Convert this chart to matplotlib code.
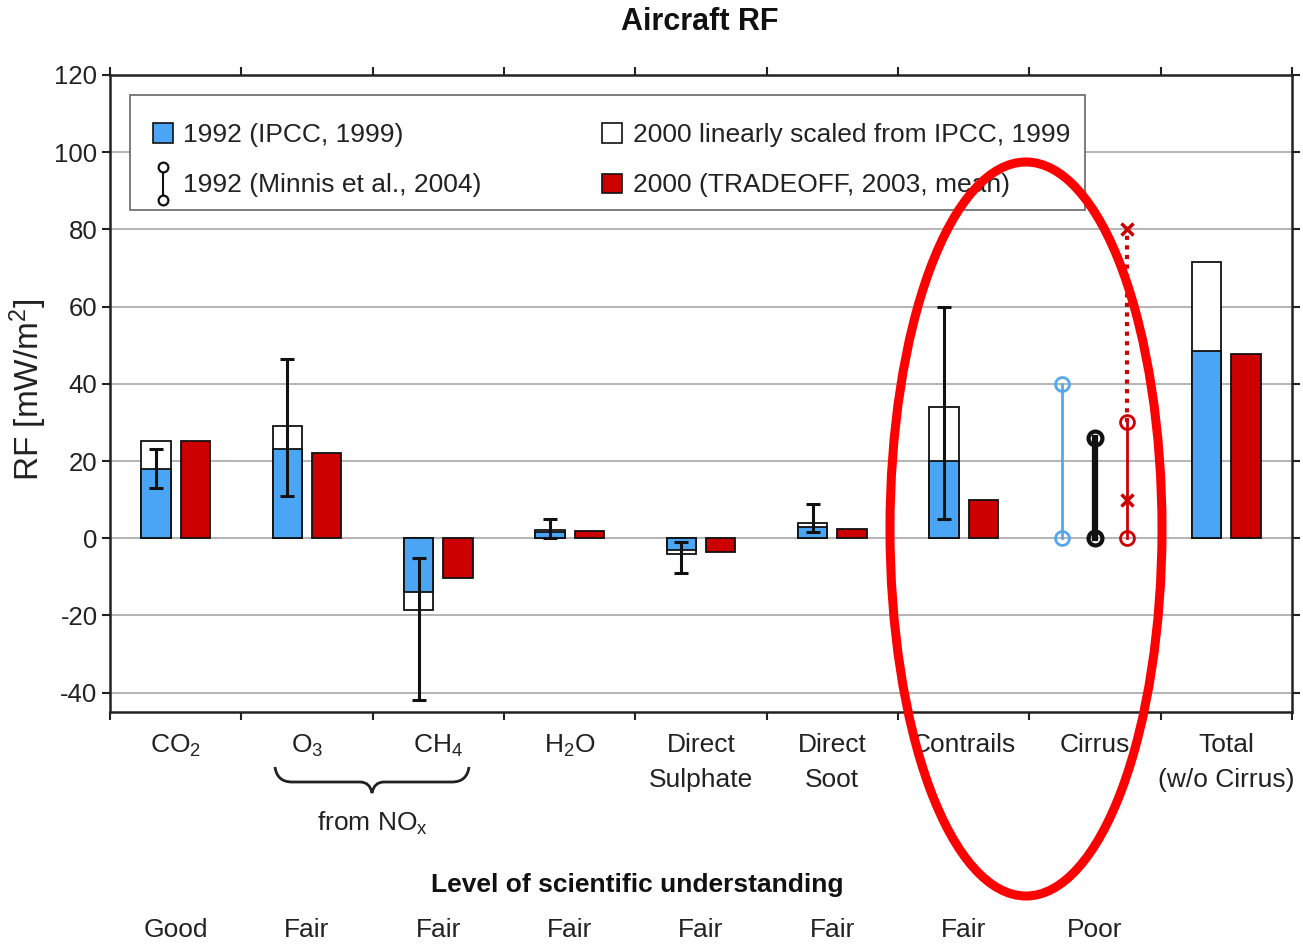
import matplotlib
matplotlib.use("Agg")
import numpy as np
import matplotlib.pyplot as plt
from matplotlib.patches import Patch, Ellipse, PathPatch, Rectangle
from matplotlib.lines import Line2D
from matplotlib.legend_handler import HandlerBase
from matplotlib.path import Path
from matplotlib.transforms import blended_transform_factory

plt.rcParams['font.family'] = ['Liberation Sans', 'DejaVu Sans']
plt.rcParams['mathtext.default'] = 'regular'
plt.rcParams['axes.unicode_minus'] = False

# ---- data (mW/m^2) ----
categories = ['CO$_2$', 'O$_3$', 'CH$_4$', 'H$_2$O', 'Direct\nSulphate',
              'Direct\nSoot', 'Contrails', 'Cirrus', 'Total\n(w/o Cirrus)']
ipcc_1992 = [18.0, 23.0, -14.0, 1.5, -3.0, 3.0, 20.0, np.nan, 48.5]
scaled_2000 = [25.3, 29.0, -18.5, 2.2, -4.0, 4.0, 34.0, np.nan, 71.5]
tradeoff_2000 = [25.3, 22.0, -10.4, 2.0, -3.5, 2.5, 10.0, np.nan, 47.8]
err_low = [13.0, 11.0, -42.0, 0.0, -9.0, 1.5, 5.0, np.nan, np.nan]
err_high = [23.0, 46.5, -5.0, 5.0, -1.0, 9.0, 60.0, np.nan, np.nan]

cirrus_ipcc_1992 = [0.0, 40.0]
cirrus_minnis_1992 = [0.0, 26.0]
cirrus_tradeoff_range = [0.0, 30.0]
cirrus_tradeoff_extreme = [10.0, 80.0]

levels = ['Good', 'Fair', 'Fair', 'Fair', 'Fair', 'Fair', 'Fair', 'Poor']

legend_labels = ['1992 (IPCC, 1999)', '1992 (Minnis et al., 2004)',
                 '2000 linearly scaled from IPCC, 1999',
                 '2000 (TRADEOFF, 2003, mean)']

# ---- styling ----
BLUE = '#4aa6f4'
LBLUE = '#55a8f0'
RED = '#cc0000'
FS = 19

W, H = 1303, 950
AX_L, AX_R, AX_T, AX_B = 110, 1292, 75, 712
fig = plt.figure(figsize=(W / 100, H / 100), dpi=100)
ax = fig.add_axes([AX_L / W, 1 - AX_B / H, (AX_R - AX_L) / W, (AX_B - AX_T) / H])


def axx(p):
    return (p - AX_L) / (AX_R - AX_L)


def axy(p):
    return (AX_B - p) / (AX_B - AX_T)


x = np.arange(len(categories))
ipcc = np.array(ipcc_1992)
scaled = np.array(scaled_2000)
trade = np.array(tradeoff_2000)
lo = np.array(err_low)
hi = np.array(err_high)

bw = 0.225
ob, orr = -0.15, 0.15
m = ~np.isnan(ipcc)

ax.bar(x[m] + ob, scaled[m], bw, color='white', edgecolor='#111111', lw=1.3, zorder=2)
ax.bar(x[m] + ob, ipcc[m], bw, color=BLUE, edgecolor='#111111', lw=1.3, zorder=3)
ax.bar(x[m] + orr, trade[m], bw, color=RED, edgecolor='#111111', lw=1.3, zorder=3)

e = ~np.isnan(lo)
mid = (lo[e] + hi[e]) / 2
half = (hi[e] - lo[e]) / 2
ax.errorbar(x[e] + ob, mid, yerr=half, fmt='none', ecolor='#111111',
            elinewidth=2.2, capsize=5, capthick=2.2, zorder=4)

# cirrus ranges
xc = x[7]
ax.plot([xc - 0.25] * 2, cirrus_ipcc_1992, color=LBLUE, lw=2, marker='o',
        ms=10, mfc='none', mec=LBLUE, mew=2, zorder=4)
ax.plot([xc] * 2, cirrus_minnis_1992, color='#111111', lw=4.5, marker='o',
        ms=10, mfc='none', mec='#111111', mew=3, zorder=4)
xr = xc + 0.24
ax.plot([xr] * 2, [cirrus_tradeoff_range[1], cirrus_tradeoff_extreme[1]],
        color=RED, lw=3, linestyle=(0, (1, 1.3)), zorder=4)
ax.plot([xr] * 2, cirrus_tradeoff_range, color=RED, lw=2, marker='o',
        ms=10, mfc='none', mec=RED, mew=2, zorder=4)
ax.plot([xr] * 2, cirrus_tradeoff_extreme, linestyle='none', marker='x',
        ms=9, mec=RED, mew=2.5, zorder=5)

# axes
ax.set_xlim(-0.5, 8.5)
ax.set_ylim(-45, 120)
ax.set_yticks(np.arange(-40, 121, 20))
ax.set_xticks(np.arange(-0.5, 9, 1))
ax.set_xticklabels([])
ax.set_xticks(x, minor=True)
ax.set_xticklabels(categories, minor=True, fontsize=FS, color='#222222')
for lbl in ax.get_xticklabels(minor=True):
    lbl.set_linespacing(1.6)
ax.tick_params(axis='x', which='minor', length=0, pad=15)
ax.tick_params(axis='x', which='major', direction='out', length=6, width=1.5,
               top=True, color='#222222')
ax.tick_params(axis='y', direction='out', length=6, width=1.5, right=True,
               labelsize=18.5, labelcolor='#222222', color='#222222', pad=3)
ax.yaxis.grid(True, color='#b4b4b4', lw=1.4)
ax.set_axisbelow(True)
for s in ax.spines.values():
    s.set_linewidth(1.8)
    s.set_color('#222222')


class MinnisHandler(HandlerBase):
    def create_artists(self, legend, orig_handle, xdescent, ydescent,
                       width, height, fontsize, trans):
        cx = width / 2 - xdescent
        ln = Line2D([cx, cx], [-ydescent - 0.35 * height, height * 1.35 - ydescent],
                    color='#111111', lw=1.5, marker='o', ms=7, mfc='white',
                    mec='#111111', mew=1.6, transform=trans)
        return [ln]


# legend box
ax.add_patch(Rectangle((axx(130), axy(210)), axx(1085) - axx(130), axy(95) - axy(210),
                       transform=ax.transAxes, facecolor='white', edgecolor='#666666',
                       lw=1.2, zorder=4.5))
h_blue = Patch(facecolor=BLUE, edgecolor='#111111', lw=1.2)
h_minnis = Line2D([], [])
h_white = Patch(facecolor='white', edgecolor='#111111', lw=1.2)
h_red = Patch(facecolor=RED, edgecolor='#111111', lw=1.2)
leg = ax.legend([h_blue, h_minnis, h_white, h_red], legend_labels,
                handler_map={h_minnis: MinnisHandler()},
                loc='upper left',
                bbox_to_anchor=(axx(128), axy(160), axx(1095) - axx(128), axy(98) - axy(160)),
                mode='expand', ncol=2, fontsize=FS, frameon=False, borderaxespad=0,
                handlelength=0.75, handleheight=0.75, handletextpad=0.4,
                borderpad=0.95, labelspacing=1.0)
leg.set_zorder(5)
for t in leg.get_texts():
    t.set_color('#222222')

# title and axis label
fig.text(700 / W, 1 - 22 / H, 'Aircraft RF', ha='center', va='center',
         fontsize=22, fontweight='bold', color='#111111')
fig.text(28 / W, 1 - 390 / H, 'RF [mW/m$^2$]', rotation=90, ha='center',
         va='center', fontsize=24, color='#222222')

# brace under O3 / CH4
bt = blended_transform_factory(ax.transData, fig.transFigure)


def xd(p):
    return (p - AX_L) / ((AX_R - AX_L) / 9) - 0.5


def yf(p):
    return 1 - p / H


verts = [(xd(275), yf(767)), (xd(277), yf(782)), (xd(292), yf(782)),
         (xd(360), yf(782)), (xd(370), yf(782)), (xd(372), yf(793)),
         (xd(374), yf(782)), (xd(384), yf(782)),
         (xd(452), yf(782)), (xd(467), yf(782)), (xd(469), yf(767))]
codes = [Path.MOVETO, Path.CURVE3, Path.CURVE3, Path.LINETO, Path.CURVE3, Path.CURVE3,
         Path.CURVE3, Path.CURVE3, Path.LINETO, Path.CURVE3, Path.CURVE3]
ax.add_patch(PathPatch(Path(verts, codes), transform=bt, fill=False,
                       lw=2, edgecolor='#222222', clip_on=False))
ax.text(xd(372), yf(823), 'from NO$_x$', transform=bt, ha='center', va='center',
        fontsize=FS, color='#222222')

# level of scientific understanding
fig.text(637 / W, 1 - 885 / H, 'Level of scientific understanding', ha='center',
         va='center', fontsize=19, fontweight='bold', color='#111111')
for i, lv in enumerate(levels):
    ax.text(x[i], yf(930), lv, transform=bt, ha='center', va='center',
            fontsize=FS, color='#222222')

# highlight around the contrail / cirrus group
fig.patches.append(Ellipse((1026 / W, 1 - 529 / H), 272 / W, 734 / H,
                           transform=fig.transFigure, fill=False,
                           edgecolor='#ff0000', lw=6.5, zorder=10))

fig.savefig('out.png', dpi=100)
